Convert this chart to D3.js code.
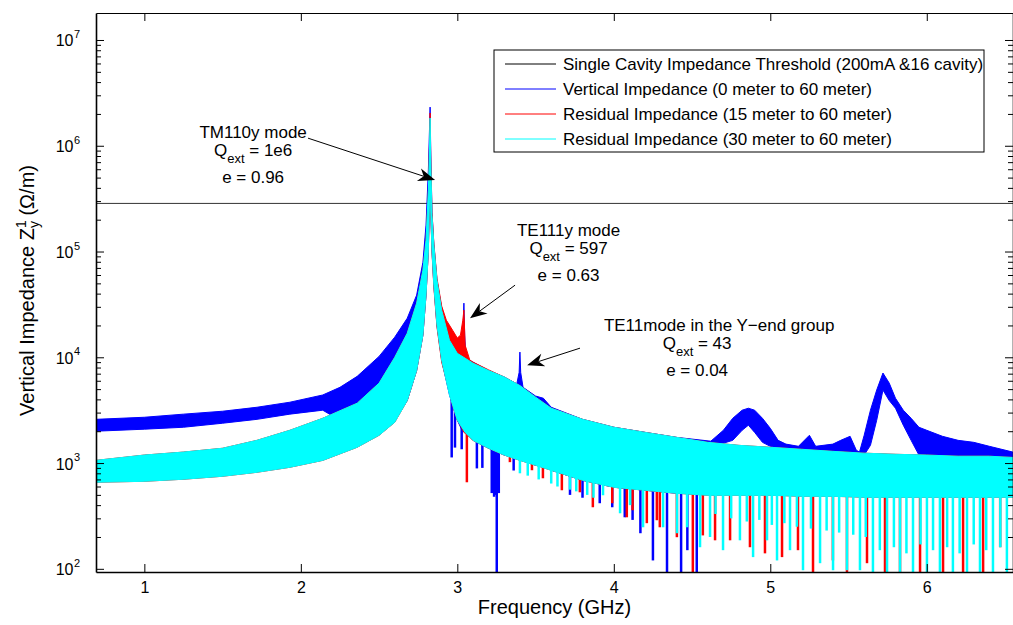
<!DOCTYPE html>
<html>
<head>
<meta charset="utf-8">
<script src="https://cdn.jsdelivr.net/npm/d3@7"></script>
<style>
  body { margin: 0; background: #fff; }
  svg { display: block; font-family: "Liberation Sans", Arial, Helvetica, sans-serif; }
</style>
</head>
<body>
<svg id="chart" width="1013" height="625"></svg>
<script>
// ---- data (frequency in GHz, impedance in Ohm/m) ----
const xTicks = [1, 2, 3, 4, 5, 6];
const yDecades = [2, 3, 4, 5, 6, 7];
const xDomain = [0.691, 6.551];
const yDomain = [93.3, 1.8e7];

const thresholdValue = 2.85e5;

// Vertical impedance (0 m to 60 m): upper / lower edge of the drawn band
const blueFreq = [0.69, 1.0, 1.25, 1.5, 1.72, 1.93, 2.14, 2.25, 2.36, 2.5, 2.6, 2.68, 2.74, 2.78, 2.8, 2.815, 2.822, 2.826, 2.83, 2.838,
  2.85, 2.87, 2.9, 2.95, 3.0, 3.03, 3.037, 3.042, 3.047, 3.055, 3.1, 3.2, 3.3, 3.38, 3.395, 3.4, 3.405, 3.42, 3.5, 3.55,
  3.6, 3.8, 4.0, 4.2, 4.4, 4.62, 4.7, 4.76, 4.82, 4.86, 4.9, 4.95, 5.0, 5.05, 5.1, 5.18, 5.25, 5.29, 5.4, 5.45,
  5.51, 5.55, 5.57, 5.6, 5.64, 5.68, 5.72, 5.76, 5.8, 5.85, 5.9, 5.95, 6.0, 6.1, 6.2, 6.3, 6.4, 6.55];
const blueHigh = [2590, 2710, 2900, 3090, 3370, 3760, 4400, 5200, 6600, 10200, 15500, 23400, 38700, 79000, 178000, 590000, 1410000, 2320000, 910000, 236000,
  117000, 53600, 29200, 15200, 11700, 11200, 18000, 32500, 16200, 9800, 9000, 7500, 6500, 5600, 7200, 11200, 7200, 5200, 4300, 4100,
  3370, 2590, 2180, 1950, 1750, 1610, 2040, 2650, 3160, 3300, 3160, 2650, 2130, 1640, 1510, 1440, 1830, 1440, 1510, 1640,
  1790, 1320, 1270, 1830, 3160, 4900, 7100, 5700, 4100, 3160, 2650, 2180, 2040, 1790, 1640, 1570, 1440, 1270];
const blueLow = [2000, 2090, 2180, 2380, 2590, 2900, 3160, 2540, 1640, 2040, 2540, 3900, 7500, 16200, 38700, 103000, 306000, 910000, 247000, 103000,
  48100, 20100, 9400, 4400, 2540, 2040, 2040, 2040, 2040, 1950, 1640, 1380, 1190, 1110, 1110, 1110, 1110, 1060, 953, 933,
  855, 687, 590, 553, 518, 1540, 1540, 1640, 2040, 2280, 1950, 1570, 1440, 1380, 1350, 1320, 1320, 1290, 1290, 1270,
  1270, 1240, 1210, 1190, 1470, 2540, 4900, 3900, 3300, 2280, 1640, 1190, 1160, 1160, 1160, 1130, 1130, 1130];

// Residual impedance (15 m to 60 m)
const redFreq = [0.69, 1.0, 1.25, 1.5, 1.72, 1.93, 2.14, 2.36, 2.5, 2.6, 2.68, 2.74, 2.78, 2.8, 2.815, 2.822, 2.826, 2.83, 2.838, 2.85,
  2.87, 2.9, 2.93, 2.97, 3.0, 3.02, 3.035, 3.042, 3.05, 3.08, 3.1, 3.2, 3.3, 3.4, 3.5, 3.6, 3.8, 4.0, 4.2, 4.4,
  4.6, 4.8, 5.0, 5.2, 5.4, 5.6, 5.8, 6.0, 6.2, 6.4, 6.55];
const redHigh = [1060, 1190, 1270, 1380, 1640, 2040, 2650, 3680, 5700, 10000, 16900, 32500, 66700, 128000, 381000, 1020000, 2040000, 820000, 236000, 120000,
  56000, 30500, 22400, 18000, 15200, 16200, 22400, 27900, 13000, 9400, 9000, 7600, 6500, 5400, 4200, 3300, 2590, 2180, 1950, 1750,
  1570, 1470, 1410, 1350, 1290, 1240, 1210, 1190, 1160, 1160, 1130];
const redLow = [658, 672, 703, 750, 818, 912, 1060, 1410, 1830, 2430, 3900, 7500, 16200, 38700, 103000, 293000, 870000, 236000, 99000, 46000,
  19300, 9000, 6100, 3500, 2540, 2280, 2040, 1950, 1910, 1750, 1640, 1380, 1190, 1060, 953, 855, 687, 590, 553, 518,
  496, 496, 496, 485, 485, 475, 475, 475, 475, 475, 475];

// Residual impedance (30 m to 60 m)
const cyanFreq = [0.69, 1.0, 1.25, 1.5, 1.72, 1.93, 2.14, 2.36, 2.5, 2.6, 2.68, 2.74, 2.78, 2.8, 2.815, 2.822, 2.826, 2.83, 2.838, 2.85,
  2.87, 2.9, 2.95, 3.0, 3.05, 3.1, 3.2, 3.3, 3.4, 3.5, 3.6, 3.8, 4.0, 4.2, 4.4, 4.6, 4.8, 5.0, 5.2, 5.4,
  5.6, 5.8, 6.0, 6.2, 6.4, 6.55];
const cyanHigh = [1060, 1190, 1270, 1380, 1640, 2040, 2650, 3680, 5700, 10000, 16900, 32500, 66700, 128000, 381000, 910000, 1830000, 730000, 221000, 115000,
  53600, 27900, 14500, 10900, 9800, 8800, 7500, 6500, 5400, 4200, 3300, 2590, 2180, 1950, 1750, 1570, 1470, 1410, 1350, 1290,
  1240, 1210, 1190, 1160, 1160, 1130];
const cyanLow = [658, 672, 703, 750, 818, 912, 1060, 1410, 1830, 2430, 3900, 7500, 16200, 38700, 103000, 306000, 910000, 247000, 103000, 48100,
  20100, 9400, 4400, 2540, 1950, 1640, 1380, 1190, 1060, 953, 855, 687, 590, 553, 518, 496, 496, 496, 485, 485,
  475, 475, 475, 475, 475, 475];

// deep notches that drop below each band: [frequency, lowest value]
const blueDips = [[2.964, 1130], [2.985, 1400], [3.028, 1350], [3.125, 890], [3.16, 900], [3.22, 520], [3.235, 480], [3.245, 500],
  [3.252, 85], [3.265, 520], [3.36, 850], [3.72, 500], [3.8, 470], [3.91, 417], [3.99, 382], [4.07, 307], [4.12, 290],
  [4.17, 217], [4.25, 120], [4.34, 85], [4.43, 85], [4.47, 150], [4.53, 85]];
const redDips = [[3.061, 658], [3.336, 1020], [3.477, 855], [3.547, 718], [3.668, 553], [3.783, 529], [3.866, 382], [3.99, 417],
  [4.083, 307], [4.12, 358], [4.211, 270], [4.275, 288], [4.294, 247], [4.403, 199], [4.505, 85], [4.569, 207], [4.647, 186],
  [4.743, 186], [4.87, 160], [4.966, 140], [5.075, 129], [5.177, 150], [5.273, 85], [5.4, 120], [5.49, 85], [5.618, 113],
  [5.733, 85], [5.829, 85], [5.957, 85], [6.104, 85], [6.232, 85], [6.36, 85], [6.469, 160]];
const cyanDips = [[3.4, 800], [3.45, 760], [3.52, 700], [3.6, 640], [3.64, 600], [3.72, 560], [3.76, 540], [3.83, 500], [3.87, 470],
  [3.931, 496], [4.04, 335], [4.104, 400], [4.187, 247], [4.315, 247], [4.404, 217], [4.468, 247], [4.551, 160], [4.615, 200],
  [4.65, 330], [4.698, 150], [4.75, 300], [4.806, 186], [4.85, 280], [4.89, 129], [4.93, 290], [4.979, 186], [5.01, 260],
  [5.043, 120], [5.09, 270], [5.126, 150], [5.17, 250], [5.209, 97], [5.26, 240], [5.318, 113], [5.36, 230], [5.401, 97],
  [5.44, 220], [5.49, 97], [5.53, 210], [5.573, 97], [5.61, 200], [5.656, 85], [5.7, 150], [5.746, 85], [5.79, 160],
  [5.829, 85], [5.87, 140], [5.912, 85], [5.96, 170], [6.001, 85], [6.04, 150], [6.084, 85], [6.13, 160], [6.167, 85],
  [6.21, 140], [6.257, 85], [6.3, 170], [6.34, 85], [6.38, 150], [6.423, 85], [6.47, 160], [6.512, 85]];

const legendLabels = [
  "Single Cavity Impedance Threshold (200mA &16 cavity)",
  "Vertical Impedance (0 meter to 60 meter)",
  "Residual Impedance (15 meter to 60 meter)",
  "Residual Impedance (30 meter to 60 meter)"
];
const seriesColors = ["#000000", "#0000ff", "#ff0000", "#00ffff"];

// mode annotations: text anchor (freq, value), arrow tail and tip
const notes = [
  {title: "TM110y mode", q: " = 1e6", e: "e = 0.96", f: 1.695, v: 1.183e6, shift: 0, tail: [2.046, 1.18e6], tip: [2.858, 4.74e5]},
  {title: "TE111y mode", q: " = 597", e: "e = 0.63", f: 3.711, v: 1.408e5, shift: 0, tail: [3.369, 4.81e4], tip: [3.081, 2.34e4]},
  {title: "TE11mode in the Y\u2212end group", q: " = 43", e: "e = 0.04", f: 4.673, v: 1.766e4, shift: -22, tail: [3.784, 1.22e4], tip: [3.446, 8.41e3]}
];

// ---- drawing ----
const svg = d3.select("#chart");
const plotLeft = 96, plotRight = 1013, plotTop = 13, plotBottom = 572;

const x = d3.scaleLinear().domain(xDomain).range([plotLeft, plotRight]);
const y = d3.scaleLog().domain(yDomain).range([plotBottom, plotTop]);

svg.append("defs").append("clipPath").attr("id", "plotClip")
  .append("rect")
  .attr("x", plotLeft).attr("y", plotTop)
  .attr("width", plotRight - plotLeft).attr("height", plotBottom - plotTop);

const plot = svg.append("g").attr("clip-path", "url(#plotClip)");

// threshold first, the spectra are drawn over it
plot.append("line")
  .attr("x1", x(xDomain[0])).attr("x2", x(xDomain[1]))
  .attr("y1", y(thresholdValue)).attr("y2", y(thresholdValue))
  .attr("stroke", "#333").attr("stroke-width", 1);

const area = d3.area()
  .x(d => x(d.f))
  .y0(d => y(d.lo))
  .y1(d => y(d.hi));

function band(freq, hi, lo) {
  return freq.map((f, i) => ({f, hi: hi[i], lo: lo[i]}));
}

function lowerEdge(freq, lo) {
  const s = d3.scaleLinear().domain(freq).range(lo.map(Math.log10)).clamp(true);
  return f => Math.pow(10, s(f));
}

function drawSeries(freq, hi, lo, dips, color) {
  plot.append("path")
    .datum(band(freq, hi, lo))
    .attr("d", area)
    .attr("fill", color)
    .attr("stroke", color)
    .attr("stroke-width", 1)
    .attr("stroke-linejoin", "round");

  const edge = lowerEdge(freq, lo);
  plot.append("g")
    .selectAll("line")
    .data(dips)
    .join("line")
    .attr("x1", d => x(d[0]))
    .attr("x2", d => x(d[0]))
    .attr("y1", d => y(edge(d[0])) - 3)
    .attr("y2", d => y(d[1]))
    .attr("stroke", color)
    .attr("stroke-width", 2.5);
}

drawSeries(blueFreq, blueHigh, blueLow, blueDips, seriesColors[1]);
drawSeries(redFreq, redHigh, redLow, redDips, seriesColors[2]);
drawSeries(cyanFreq, cyanHigh, cyanLow, cyanDips, seriesColors[3]);

// ---- axes (MATLAB style: ticks inside, box all round) ----
const majorY = yDecades.map(k => Math.pow(10, k));
const minorY = [];
for (let k = 1; k <= 7; k++) {
  for (let m = 2; m <= 9; m++) {
    const v = m * Math.pow(10, k);
    if (v > yDomain[0] && v < yDomain[1]) minorY.push(v);
  }
}

function styleAxis(g, width) {
  g.attr("font-family", null).attr("font-size", null);
  g.select(".domain").attr("stroke", "#000").attr("stroke-width", width);
  g.selectAll(".tick line").attr("stroke", "#000").attr("stroke-width", 1);
}

const gBottom = svg.append("g")
  .attr("transform", `translate(0,${plotBottom})`)
  .call(d3.axisBottom(x).tickValues(xTicks).tickSize(-8).tickSizeOuter(0).tickPadding(10).tickFormat(d3.format("d")));
styleAxis(gBottom, 1.6);
gBottom.selectAll("text").attr("fill", "#000").style("font-size", "16px");

const gTop = svg.append("g")
  .attr("transform", `translate(0,${plotTop})`)
  .call(d3.axisTop(x).tickValues(xTicks).tickSize(-8).tickSizeOuter(0).tickFormat(""));
styleAxis(gTop, 1.2);

[[d3.axisLeft, plotLeft], [d3.axisRight, plotRight]].forEach(([axisFn, pos]) => {
  const gMajor = svg.append("g")
    .attr("transform", `translate(${pos},0)`)
    .call(axisFn(y).tickValues(majorY).tickSize(-8).tickSizeOuter(0).tickFormat(""));
  styleAxis(gMajor, 1.6);
  const gMinor = svg.append("g")
    .attr("transform", `translate(${pos},0)`)
    .call(axisFn(y).tickValues(minorY).tickSize(-5).tickSizeOuter(0).tickFormat(""));
  styleAxis(gMinor, 0);
  gMinor.select(".domain").remove();
});

// y tick labels 10^k
const yLab = svg.append("g");
yDecades.forEach(k => {
  const yy = y(Math.pow(10, k));
  yLab.append("text")
    .attr("x", 73.5).attr("y", yy + 6.5)
    .attr("text-anchor", "end")
    .style("font-size", "16px")
    .text("10");
  yLab.append("text")
    .attr("x", 74).attr("y", yy - 2)
    .style("font-size", "11px")
    .text(k);
});

// axis titles
svg.append("text")
  .attr("x", (plotLeft + plotRight) / 2).attr("y", 614)
  .attr("text-anchor", "middle")
  .style("font-size", "20px")
  .text("Frequency (GHz)");

const yTitle = svg.append("text")
  .attr("transform", "translate(33.5,290.5) rotate(-90)")
  .attr("text-anchor", "middle")
  .style("font-size", "20px");
yTitle.append("tspan").text("Vertical Impedance Z");
yTitle.append("tspan").attr("dy", -8).style("font-size", "14px").text("1");
yTitle.append("tspan").attr("dx", -7.8).attr("dy", 13).style("font-size", "14px").text("y");
yTitle.append("tspan").attr("dy", -5).text(" (\u03A9/m)");

// ---- annotations ----
const noteG = svg.append("g").style("font-size", "17px");
notes.forEach(n => {
  const cx = x(n.f), by = y(n.v);
  noteG.append("text").attr("x", cx).attr("y", by).attr("text-anchor", "middle").text(n.title);
  const q = noteG.append("text").attr("x", cx + n.shift).attr("y", by + 18).attr("text-anchor", "middle");
  q.append("tspan").text("Q");
  q.append("tspan").attr("dy", 7).style("font-size", "13px").text("ext");
  q.append("tspan").attr("dy", -7).text(n.q);
  noteG.append("text").attr("x", cx + n.shift).attr("y", by + 45).attr("text-anchor", "middle").text(n.e);

  const x0 = x(n.tail[0]), y0 = y(n.tail[1]);
  const x1 = x(n.tip[0]), y1 = y(n.tip[1]);
  const ang = Math.atan2(y1 - y0, x1 - x0);
  noteG.append("line")
    .attr("x1", x0).attr("y1", y0)
    .attr("x2", x1 - 12 * Math.cos(ang)).attr("y2", y1 - 12 * Math.sin(ang))
    .attr("stroke", "#000").attr("stroke-width", 1);
  noteG.append("path")
    .attr("d", "M0,0 L-17,-6.5 L-12,0 L-17,6.5 Z")
    .attr("transform", `translate(${x1},${y1}) rotate(${ang * 180 / Math.PI})`)
    .attr("fill", "#000");
});

// ---- legend ----
const lg = svg.append("g");
lg.append("rect")
  .attr("x", 494).attr("y", 50).attr("width", 490).attr("height", 102)
  .attr("fill", "#fff").attr("stroke", "#000").attr("stroke-width", 1);
legendLabels.forEach((label, i) => {
  const cy = 64 + i * 25;
  lg.append("line")
    .attr("x1", 505).attr("x2", 556).attr("y1", cy).attr("y2", cy)
    .attr("stroke", seriesColors[i]).attr("stroke-width", 1);
  lg.append("text")
    .attr("x", 563).attr("y", cy + 6)
    .style("font-size", "17px")
    .text(label);
});
</script>
</body>
</html>
